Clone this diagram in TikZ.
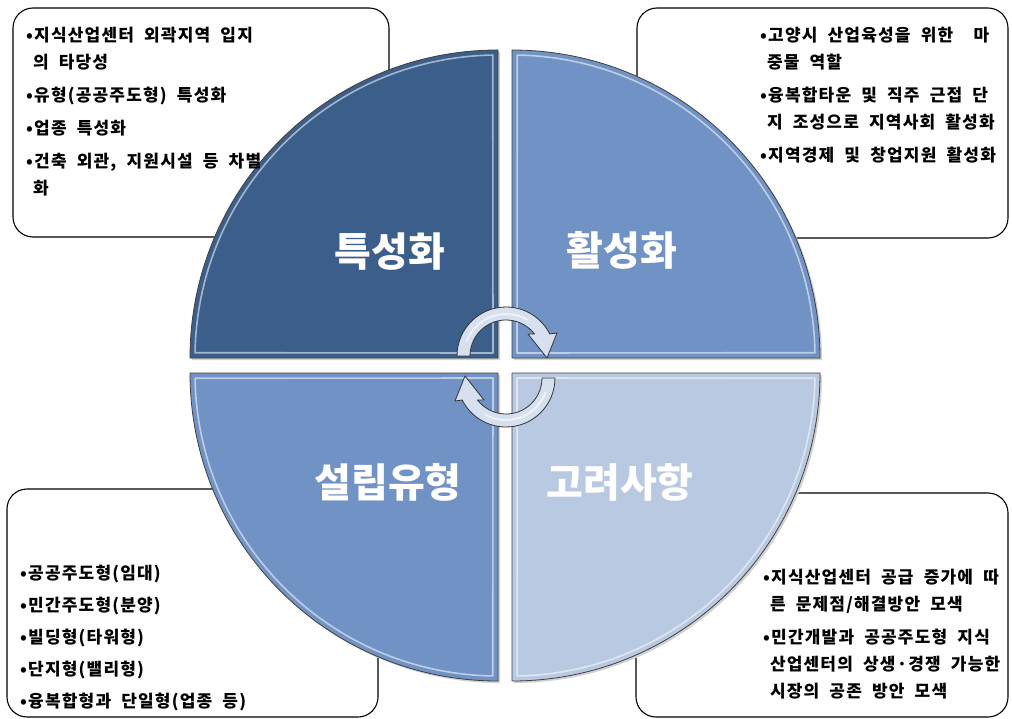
\documentclass[tikz,border=0pt]{standalone}
\usepackage{fontspec}
\newfontfamily\kr{Noto Sans CJK KR}
\newfontfamily\krtxt{Noto Sans CJK KR}[LetterSpace=7, WordSpace=2.0]
\usetikzlibrary{calc}
\definecolor{cTL}{RGB}{59,94,139}
\definecolor{cTR}{RGB}{112,146,196}
\definecolor{cBL}{RGB}{112,146,196}
\definecolor{cBR}{RGB}{185,201,226}
\definecolor{arrowfill}{RGB}{214,224,239}
\newcommand\drawquarter[4]{%
  \fill[black!18] ($(#1,#2)+(2,2)$) -- ++(#3:308) arc[start angle=#3, end angle=#3+90, radius=308] -- cycle;
  \fill[#4] (#1,#2) -- ++(#3:308) arc[start angle=#3, end angle=#3+90, radius=308] -- cycle;
  \draw[white, opacity=0.55, line width=1.6pt, line join=round]
    ($(#1,#2)+(#3+1:303)$) arc[start angle=#3+1, end angle=#3+89, radius=303] -- ($(#1,#2)+(#3+45:7.07)$) -- cycle;
  \draw[black!75, line width=0.8pt, line join=round]
    (#1,#2) -- ++(#3:308) arc[start angle=#3, end angle=#3+90, radius=308] -- cycle;
}
\begin{document}
\begin{tikzpicture}[x=1pt,y=-1pt,
  boxsty/.style={draw=black, line width=1.1pt, rounded corners=20pt, fill=white},
  bodytxt/.style={anchor=north west, inner sep=0pt, align=left, text=black,
    font=\krtxt\bfseries\fontsize{17}{27}\selectfont},
  biglbl/.style={text=white, inner sep=0pt, font=\kr\bfseries\fontsize{40}{48}\selectfont},
  arrowsty/.style={fill=arrowfill, draw=black!80, line width=0.8pt, line join=round}]
\useasboundingbox (0,0) rectangle (1012,719);
% boxes
\draw[boxsty] (13,8) rectangle (389,237);
\draw[boxsty] (637,8) rectangle (1008,238);
\draw[boxsty] (7,489) rectangle (378,717);
\draw[boxsty] (636,493) rectangle (1008,717);
% quarters
\drawquarter{498}{358}{180}{cTL}
\drawquarter{512}{358}{270}{cTR}
\drawquarter{498}{373}{90}{cBL}
\drawquarter{512}{373}{0}{cBR}
% big labels
\node[biglbl] (l1) at (390,252) {특성화};
\node[biglbl] (l2) at (622,250) {활성화};
\node[biglbl] (l3) at (388,482) {설립유형};
\node[biglbl] (l4) at (620,482) {고려사항};
% circular arrows
\filldraw[arrowsty] (457,356) arc[start angle=180,end angle=333.3,radius=49] -- (557,333) -- (547,358) -- (528,334)
  -- ($(506,356)+(322.3:36)$) arc[start angle=322.3,end angle=180,radius=36] -- cycle;
\draw[white, opacity=0.6, line width=2pt, line cap=round] ($(506,356)+(200:42)$) arc[start angle=200,end angle=300,radius=42];
\begin{scope}[rotate around={180:(506,367)}]
\filldraw[arrowsty] (457,356) arc[start angle=180,end angle=333.3,radius=49] -- (557,333) -- (547,358) -- (528,334)
  -- ($(506,356)+(322.3:36)$) arc[start angle=322.3,end angle=180,radius=36] -- cycle;
\draw[white, opacity=0.6, line width=2pt, line cap=round] ($(506,356)+(200:42)$) arc[start angle=200,end angle=300,radius=42];
\end{scope}
% body texts
\node[bodytxt] (t1) at (26,27) {•지식산업센터 외곽지역 입지\\
\phantom{•}의 타당성\\[6pt]
•유형(공공주도형) 특성화\\[6pt]
•업종 특성화\\[6pt]
•건축 외관, 지원시설 등 차별\\
\phantom{•}화};
\node[bodytxt] (t2) at (760,27) {•고양시 산업육성을 위한 \ 마\\
\phantom{•}중물 역할\\[6pt]
•융복합타운 및 직주 근접 단\\
\phantom{•}지 조성으로 지역사회 활성화\\[6pt]
•지역경제 및 창업지원 활성화};
\node[bodytxt] (t3) at (20,565) {•공공주도형(임대)\\[5pt]
•민간주도형(분양)\\[5pt]
•빌딩형(타워형)\\[5pt]
•단지형(밸리형)\\[5pt]
•융복합형과 단일형(업종 등)};
\node[bodytxt] (t4) at (763,569) {•지식산업센터 공급 증가에 따\\
\phantom{•}른 문제점/해결방안 모색\\[6pt]
•민간개발과 공공주도형 지식\\
\phantom{•}산업센터의 상생·경쟁 가능한\\
\phantom{•}시장의 공존 방안 모색};
\end{tikzpicture}
\end{document}
